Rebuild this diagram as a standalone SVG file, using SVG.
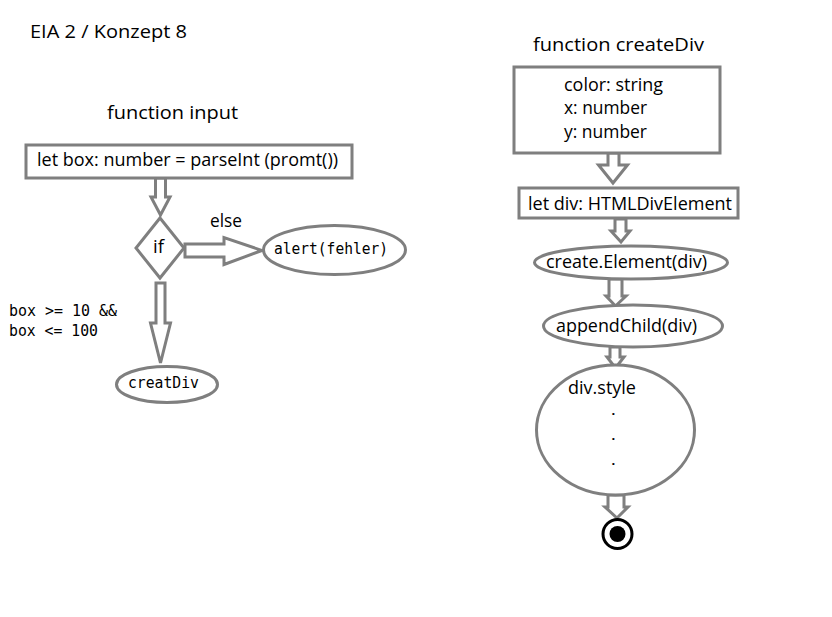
<svg xmlns="http://www.w3.org/2000/svg" width="832" height="617" viewBox="0 0 832 617">
<style>
.s{fill:#fff;stroke:#7f7f7f;stroke-width:3}
.a{fill:#fff;stroke:#7f7f7f;stroke-width:3;stroke-linejoin:miter}
.t{font-family:"Open Sans","Noto Sans","Liberation Sans",sans-serif;fill:#000;font-size:18px}
.d{font-family:"Open Sans","Noto Sans","Liberation Sans",sans-serif;fill:#000;font-size:13px;font-weight:bold}
.m{font-family:"DejaVu Sans Mono","Liberation Mono",monospace;fill:#000;font-size:15px}
</style>
<rect width="832" height="617" fill="#fff"/>
<text class="t" x="30" y="38" font-size="19" textLength="157" lengthAdjust="spacingAndGlyphs">EIA 2 / Konzept 8</text>
<text class="t" x="107" y="119" font-size="19" textLength="131" lengthAdjust="spacingAndGlyphs">function input</text>
<text class="t" x="533" y="51" font-size="19" textLength="171" lengthAdjust="spacingAndGlyphs">function createDiv</text>

<g id="connectors">
<polygon class="a" points="155.5,178 155.5,197 151,197 160.5,215 170,197 165.5,197 165.5,178"/>
<polygon class="a" points="185,244 224,244 224,237.5 262,250.5 224,264.5 224,257 185,257"/>
<polygon class="a" points="156,283 156,323 150.5,323 160.5,363 170.5,323 165,323 165,283"/>
<polygon class="a" points="608,153 608,165 598.5,165 613,183 627.5,165 619,165 619,153"/>
<polygon class="a" points="615,219 615,231 611,231 621,242 630,231 626,231 626,219"/>
<polygon class="a" points="609,279 609,296 606,296 615.5,306 626,296 622,296 622,279"/>
<polygon class="a" points="610,347 610,357 607,357 615.5,368 624,357 620,357 620,347"/>
<polygon class="a" points="608,495 608,507 605,507 617,518 628,507 624,507 624,495"/>
<text class="t" x="210" y="227" textLength="32" lengthAdjust="spacingAndGlyphs">else</text>
<text class="m" x="9" y="316" textLength="108" lengthAdjust="spacingAndGlyphs">box &gt;= 10 &amp;&amp;</text>
<text class="m" x="9" y="336" textLength="89" lengthAdjust="spacingAndGlyphs">box &lt;= 100</text>
</g>

<g id="n-input">
<rect class="s" x="26" y="145" width="326" height="33"/>
<text class="t" x="37" y="166" textLength="301" lengthAdjust="spacingAndGlyphs">let box: number = parseInt (promt())</text>
</g>
<g id="n-if">
<polygon class="s" points="160,218 184,248 160,278 136,248"/>
<text class="t" x="153" y="253" textLength="11" lengthAdjust="spacingAndGlyphs">if</text>
</g>
<g id="n-alert">
<ellipse class="s" cx="334.5" cy="250" rx="71" ry="24.5"/>
<text class="m" x="274" y="254" textLength="114" lengthAdjust="spacingAndGlyphs">alert(fehler)</text>
</g>
<g id="n-creatDiv">
<ellipse class="s" cx="167" cy="384.5" rx="50.5" ry="18"/>
<text class="m" x="128" y="388" textLength="71" lengthAdjust="spacingAndGlyphs">creatDiv</text>
</g>

<g id="n-params">
<rect class="s" x="514" y="67" width="206" height="86"/>
<text class="t" x="564" y="91" textLength="99" lengthAdjust="spacingAndGlyphs">color: string</text>
<text class="t" x="564" y="114" textLength="83" lengthAdjust="spacingAndGlyphs">x: number</text>
<text class="t" x="564" y="138" textLength="83" lengthAdjust="spacingAndGlyphs">y: number</text>
</g>
<g id="n-letdiv">
<rect class="s" x="519" y="188" width="219" height="30"/>
<text class="t" x="528" y="210" textLength="204" lengthAdjust="spacingAndGlyphs">let div: HTMLDivElement</text>
</g>
<g id="n-createElement">
<ellipse class="s" cx="631" cy="262.5" rx="96.5" ry="16.5"/>
<text class="t" x="546" y="268" textLength="161" lengthAdjust="spacingAndGlyphs">create.Element(div)</text>
</g>
<g id="n-appendChild">
<ellipse class="s" cx="633" cy="326" rx="89.5" ry="21"/>
<text class="t" x="556" y="332" textLength="141" lengthAdjust="spacingAndGlyphs">appendChild(div)</text>
</g>
<g id="n-style">
<ellipse class="s" cx="615.5" cy="430" rx="79" ry="65"/>
<text class="t" x="568" y="394" textLength="68" lengthAdjust="spacingAndGlyphs">div.style</text>
<text class="d" x="611.5" y="415">.</text>
<text class="d" x="611.5" y="440">.</text>
<text class="d" x="611.5" y="465">.</text>
</g>
<g id="n-end">
<circle cx="617.5" cy="534" r="14.5" fill="#fff" stroke="#000" stroke-width="3"/>
<circle cx="617.5" cy="534" r="8" fill="#000"/>
</g>
</svg>
